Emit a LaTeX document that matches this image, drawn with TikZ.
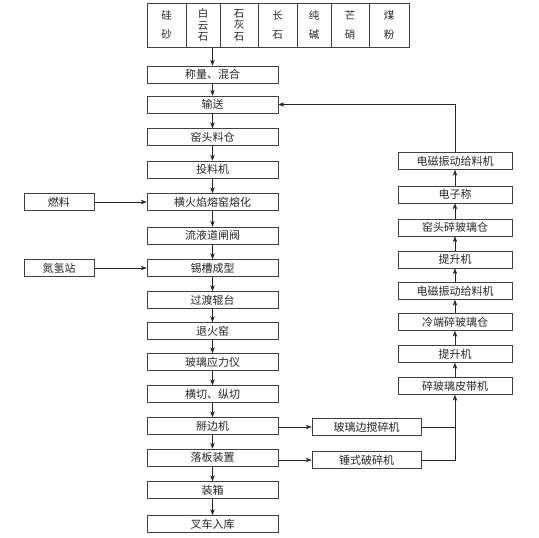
\documentclass[tikz,border=0pt]{standalone}
\usepackage{fontspec}
\newfontfamily\cjk{Noto Sans CJK SC}
\usepackage{tikz}
\usetikzlibrary{arrows.meta,positioning}

\begin{document}
\begin{tikzpicture}[
    x=1pt, y=-1pt,
    procbox/.style={
        rectangle, draw=black!75, line width=0.6pt, fill=white,
        minimum height=17pt, inner sep=1pt,
        font=\cjk\fontsize{11}{13}\selectfont, text=black!85
    },
    mainbox/.style={procbox, minimum width=131pt},
    sidebox/.style={procbox, minimum width=70pt},
    crushbox/.style={procbox, minimum width=109pt},
    cullbox/.style={procbox, minimum width=114pt},
    rawbox/.style={
        rectangle, draw=black!75, line width=0.6pt, minimum height=44pt,
        inner sep=0pt, align=center, text=black!85,
        font=\cjk\fontsize{10.5}{11.5}\selectfont
    },
    arr/.style={-{Stealth[length=6pt,width=4.5pt]}, line width=0.6pt, black!85},
    plain/.style={line width=0.6pt, black!85}
]
    \useasboundingbox (0,0) rectangle (539,538);

    % raw materials
    \node[rawbox, minimum width=39pt] (sand)      at (166.5,25) {硅\\[8pt]砂};
    \node[rawbox, minimum width=34pt] (dolomite)  at (203,25)   {白\\云\\石};
    \node[rawbox, minimum width=38pt] (limestone) at (239,25)   {石\\灰\\石};
    \node[rawbox, minimum width=39pt] (feldspar)  at (277.5,25) {长\\[8pt]石};
    \node[rawbox, minimum width=34pt] (soda)      at (314,25)   {纯\\[8pt]碱};
    \node[rawbox, minimum width=38pt] (saltcake)  at (350,25)   {芒\\[8pt]硝};
    \node[rawbox, minimum width=40pt] (coal)      at (389,25)   {煤\\[8pt]粉};

    % main line
    \node[mainbox] (weigh)       at (212.5,74.5) {称量、混合};
    \node[mainbox] (convey)      at (212.5,104.5){输送};
    \node[mainbox] (hopper)      at (212.5,137)  {窑头料仓};
    \node[mainbox] (charger)     at (212.5,169.5){投料机};
    \node[mainbox] (furnace)     at (212.5,202)  {横火焰熔窑熔化};
    \node[mainbox] (flowchan)    at (212.5,235.5){流液道闸阀};
    \node[mainbox] (tinbath)     at (212.5,268)  {锡槽成型};
    \node[mainbox] (transroll)   at (212.5,300)  {过渡辊台};
    \node[mainbox] (lehr)        at (212.5,331)  {退火窑};
    \node[mainbox] (stressmeter) at (212.5,362)  {玻璃应力仪};
    \node[mainbox] (cutting)     at (212.5,394)  {横切、纵切};
    \node[mainbox] (snapping)    at (212.5,426)  {掰边机};
    \node[mainbox] (dropping)    at (212.5,457.5){落板装置};
    \node[mainbox] (packing)     at (212.5,490)  {装箱};
    \node[mainbox] (forklift)    at (212.5,524)  {叉车入库};

    % side inputs
    \node[sidebox] (fuel)  at (59,202) {燃料};
    \node[sidebox] (nitro) at (59,268) {氮氢站};

    % cullet crushers
    \node[crushbox] (edgecrush) at (366.5,427) {玻璃边搅碎机};
    \node[crushbox] (hammer)    at (366.5,460) {锤式破碎机};

    % cullet return line
    \node[cullbox] (cullbelt) at (455,386) {碎玻璃皮带机};
    \node[cullbox] (lift2)    at (455,354) {提升机};
    \node[cullbox] (coldbin)  at (455,322) {冷端碎玻璃仓};
    \node[cullbox] (vib2)     at (455,291) {电磁振动给料机};
    \node[cullbox] (lift1)    at (455,259.5){提升机};
    \node[cullbox] (headbin)  at (455,227.5){窑头碎玻璃仓};
    \node[cullbox] (scale)    at (455,194.5){电子称};
    \node[cullbox] (vib1)     at (455,161)  {电磁振动给料机};

    % main flow
    \draw[arr] (weigh.north |- dolomite.south) -- (weigh);
    \draw[arr] (weigh) -- (convey);
    \draw[arr] (convey) -- (hopper);
    \draw[arr] (hopper) -- (charger);
    \draw[arr] (charger) -- (furnace);
    \draw[arr] (furnace) -- (flowchan);
    \draw[arr] (flowchan) -- (tinbath);
    \draw[arr] (tinbath) -- (transroll);
    \draw[arr] (transroll) -- (lehr);
    \draw[arr] (lehr) -- (stressmeter);
    \draw[arr] (stressmeter) -- (cutting);
    \draw[arr] (cutting) -- (snapping);
    \draw[arr] (snapping) -- (dropping);
    \draw[arr] (dropping) -- (packing);
    \draw[arr] (packing) -- (forklift);

    \draw[arr] (fuel) -- (furnace);
    \draw[arr] (nitro) -- (tinbath);

    % cullet
    \draw[arr] (snapping.east |- edgecrush.west) -- (edgecrush.west);
    \draw[arr] (dropping.east |- hammer.west) -- (hammer.west);
    \draw[arr] (edgecrush.east) -| (cullbelt.south);
    \draw[plain] (hammer.east) -| (cullbelt.south |- edgecrush.east);

    \draw[arr] (cullbelt) -- (lift2);
    \draw[arr] (lift2) -- (coldbin);
    \draw[arr] (coldbin) -- (vib2);
    \draw[arr] (vib2) -- (lift1);
    \draw[arr] (lift1) -- (headbin);
    \draw[arr] (headbin) -- (scale);
    \draw[arr] (scale) -- (vib1);
    \draw[arr] (vib1.north) |- (convey.east);
\end{tikzpicture}
\end{document}
